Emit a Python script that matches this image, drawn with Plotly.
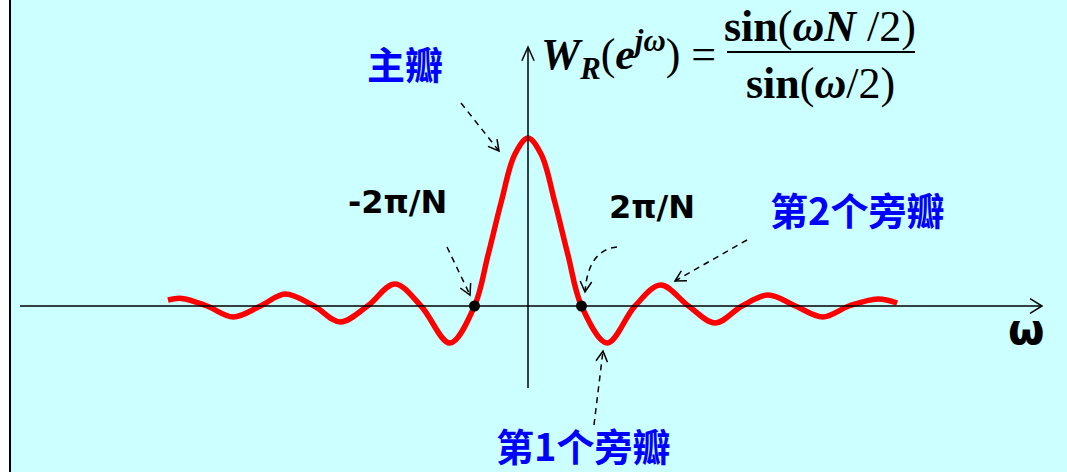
import math
import plotly.graph_objects as go

# ---------------- data ----------------
# omega in units of 2*pi/N, amplitude normalised to main-lobe peak
omega = [-6.73, -6.47, -6.0, -5.51, -5.0, -4.54, -4.0, -3.51, -3.0, -2.49, -2.0,
         -1.46, -1.0, -0.75, -0.5, -0.25, 0.0, 0.25, 0.5, 0.75, 1.0, 1.48, 2.0,
         2.48, 3.0, 3.50, 4.0, 4.49, 5.0, 5.51, 6.0, 6.54, 6.9]
amp = [0.036, 0.045, 0.0, -0.065, 0.0, 0.071, 0.0, -0.095, 0.0, 0.131, 0.0,
       -0.22, 0.0, 0.30, 0.62, 0.90, 1.0, 0.90, 0.62, 0.30, 0.0, -0.22, 0.0,
       0.125, 0.0, -0.101, 0.0, 0.065, 0.0, -0.065, 0.0, 0.042, 0.018]
zero_x = [-1.0, 1.0]
zero_y = [0.0, 0.0]

labels_black = ["-2π/N", "2π/N"]
labels_blue = ["主瓣", "第2个旁瓣", "第1个旁瓣"]

# ---------------- layout helpers ----------------
W, H = 1067, 472
X0_PX, Y0_PX = 528, 306
SX, SY = 53.5, 168.0


def px2x(px):
    return (px - X0_PX) / SX


def py2y(py):
    return (Y0_PX - py) / SY


def P(px, py):
    return f"{px2x(px):.4f},{py2y(py):.4f}"


def head_path(tx, ty, fx, fy, L=11, half=0.45):
    # open V arrowhead at tip (tx,ty) coming from (fx,fy), pixel space
    ang = math.atan2(ty - fy, tx - fx)
    a1 = ang + math.pi - half
    a2 = ang + math.pi + half
    p1 = (tx + L * math.cos(a1), ty + L * math.sin(a1))
    p2 = (tx + L * math.cos(a2), ty + L * math.sin(a2))
    return f"M {P(*p1)} L {P(tx, ty)} L {P(*p2)}"


shapes = []
BG = "#CCFFFF"

# left white strip + border
shapes.append(dict(type="rect", xref="paper", yref="paper", x0=0, x1=9 / W, y0=0, y1=1,
                   fillcolor="white", line=dict(width=0), layer="below"))
shapes.append(dict(type="line", xref="paper", yref="paper", x0=10 / W, x1=10 / W, y0=0, y1=1,
                   line=dict(color="black", width=2)))

# axes
shapes.append(dict(type="line", xref="x", yref="y", x0=px2x(20), x1=px2x(1042), y0=0, y1=0,
                   line=dict(color="black", width=1.5)))
shapes.append(dict(type="path", xref="x", yref="y", path=head_path(1042, Y0_PX, 1000, Y0_PX, L=14, half=0.55),
                   line=dict(color="black", width=1.5)))
shapes.append(dict(type="line", xref="x", yref="y", x0=0, x1=0, y0=py2y(388), y1=py2y(47),
                   line=dict(color="black", width=1.5)))
shapes.append(dict(type="path", xref="x", yref="y", path=head_path(X0_PX, 47, X0_PX, 100, L=15, half=0.42),
                   line=dict(color="black", width=1.5)))

# fraction bar
shapes.append(dict(type="line", xref="x", yref="y", x0=px2x(727), x1=px2x(915), y0=py2y(52), y1=py2y(52),
                   line=dict(color="black", width=2)))

DASH = "6px,5px"
# straight dashed arrows (start px, tip px)
arrows = [((461, 103), (499, 151)),
          ((447, 247), (470, 295)),
          ((747, 240), (675, 281)),
          ((594, 425), (603, 351))]
for (sx, sy), (tx, ty) in arrows:
    shapes.append(dict(type="path", xref="x", yref="y", path=f"M {P(sx, sy)} L {P(tx, ty)}",
                       line=dict(color="black", width=1.5, dash=DASH)))
    shapes.append(dict(type="path", xref="x", yref="y", path=head_path(tx, ty, sx, sy, L=12, half=0.5),
                       line=dict(color="black", width=1.5)))
# curved dashed arrow for 2pi/N
shapes.append(dict(type="path", xref="x", yref="y",
                   path=f"M {P(617, 247)} Q {P(588, 250)} {P(585, 292)}",
                   line=dict(color="black", width=1.5, dash=DASH)))
shapes.append(dict(type="path", xref="x", yref="y", path=head_path(585, 292, 587, 270, L=12, half=0.5),
                   line=dict(color="black", width=1.5)))

fig = go.Figure()
fig.add_trace(go.Scatter(x=omega, y=amp, mode="lines",
                         line=dict(color="#FF0000", width=5.5, shape="spline", smoothing=1.0),
                         hoverinfo="skip"))
fig.add_trace(go.Scatter(x=zero_x, y=zero_y, mode="markers",
                         marker=dict(color="black", size=11), hoverinfo="skip"))

ann = []
cjk = "Noto Sans CJK SC"
ann.append(dict(x=px2x(405), y=py2y(62), text=labels_blue[0], showarrow=False,
                font=dict(family=cjk, size=38, color="#0000FF", weight="bold")))
ann.append(dict(x=px2x(857), y=py2y(208), text=labels_blue[1], showarrow=False,
                font=dict(family=cjk, size=38, color="#0000FF", weight="bold")))
ann.append(dict(x=px2x(583), y=py2y(444), text=labels_blue[2], showarrow=False,
                font=dict(family=cjk, size=38, color="#0000FF", weight="bold")))
ann.append(dict(x=px2x(397), y=py2y(202), text=labels_black[0], showarrow=False,
                font=dict(family="DejaVu Sans", size=32, color="black", weight="bold")))
ann.append(dict(x=px2x(652), y=py2y(207), text=labels_black[1], showarrow=False,
                font=dict(family="DejaVu Sans", size=32, color="black", weight="bold")))
ann.append(dict(x=px2x(1026), y=py2y(329), text="ω", showarrow=False,
                font=dict(family="DejaVu Sans", size=42, color="black", weight="bold")))
serif = "Liberation Serif"
ann.append(dict(x=px2x(718), y=py2y(55), xanchor="right",
                text="<b><i>W</i></b><sub><b><i>R</i></b></sub>(<b><i>e</i></b><sup><b><i>jω</i></b></sup>) =",
                showarrow=False, font=dict(family=serif, size=44, color="black")))
ann.append(dict(x=px2x(820), y=py2y(26), text="<b>sin</b>(<b><i>ωN</i></b> /2)",
                showarrow=False, font=dict(family=serif, size=44, color="black")))
ann.append(dict(x=px2x(820), y=py2y(83), text="<b>sin</b>(<b><i>ω</i></b>/2)",
                showarrow=False, font=dict(family=serif, size=44, color="black")))

fig.update_layout(
    width=W, height=H, margin=dict(l=0, r=0, t=0, b=0),
    paper_bgcolor=BG, plot_bgcolor=BG, showlegend=False,
    xaxis=dict(range=[px2x(0), px2x(W)], visible=False, fixedrange=True),
    yaxis=dict(range=[py2y(H), py2y(0)], visible=False, fixedrange=True),
    shapes=shapes, annotations=ann,
)
fig.write_html("out.html", config=dict(displayModeBar=False),
               post_script="document.body.style.margin='0';")
